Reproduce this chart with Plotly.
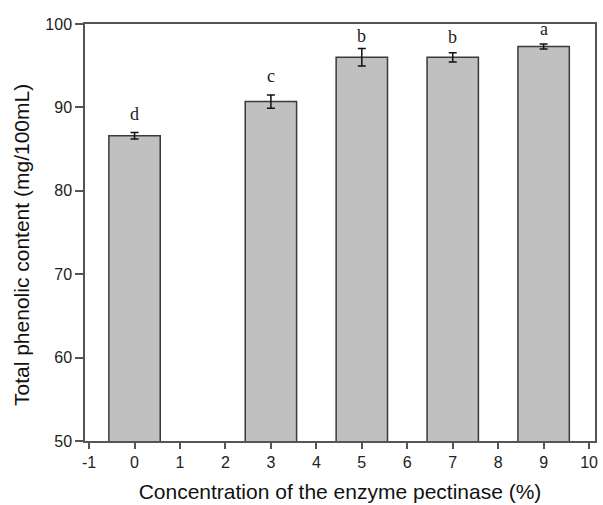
import plotly.graph_objects as go

concentrations = [0, 3, 5, 7, 9]
phenolic = [86.6, 90.7, 96.0, 96.0, 97.3]
errors = [0.4, 0.8, 1.05, 0.55, 0.3]
letters = ["d", "c", "b", "b", "a"]
x_ticks = list(range(-1, 11))
x_ticktext = [str(v) for v in x_ticks]  # uses plain hyphen for -1
y_ticks = [50, 60, 70, 80, 90, 100]

fig = go.Figure()
fig.add_trace(go.Bar(
    x=concentrations, y=phenolic, width=1.13,
    marker=dict(color="#c0c0c0", line=dict(color="#3a3a3a", width=1.5)),
    error_y=dict(type="data", array=errors, color="#111", thickness=1.5, width=4),
))

letter_gaps = [6, 7, 1, 4, 3]
for xv, yv, e, t, g in zip(concentrations, phenolic, errors, letters, letter_gaps):
    fig.add_annotation(x=xv, y=yv + e, text=t, showarrow=False, yanchor="bottom",
                       yshift=g, font=dict(family="Liberation Serif", size=18, color="#222"))

# y-axis title as a rotated annotation, sitting slightly below the plot centre as in the reference
fig.add_annotation(text="Total phenolic content (mg/100mL)", xref="paper", yref="paper",
                   x=0, y=0.47, xshift=-64, textangle=-90, showarrow=False,
                   xanchor="center", yanchor="middle",
                   font=dict(family="Liberation Sans", size=21, color="#111"))

axis_common = dict(showline=True, linecolor="#555", linewidth=1.5, mirror=True,
                   ticks="outside", tickcolor="#555", tickwidth=1.5, showgrid=False,
                   zeroline=False, tickfont=dict(family="Liberation Sans", size=16, color="#222"))

fig.update_xaxes(range=[-1.09, 10.13], tickvals=x_ticks, ticktext=x_ticktext, ticklen=6,
                 title=dict(text="Concentration of the enzyme pectinase (%)",
                            font=dict(family="Liberation Sans", size=21, color="#111"), standoff=14),
                 **axis_common)
fig.update_yaxes(range=[50, 100], tickvals=y_ticks, ticklen=8, **axis_common)

fig.update_layout(width=603, height=505, margin=dict(l=85, r=5, t=24, b=63),
                  plot_bgcolor="white", paper_bgcolor="white", showlegend=False)

fig.write_html("out.html")
